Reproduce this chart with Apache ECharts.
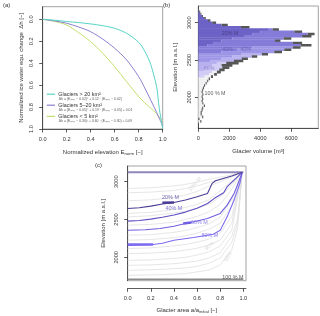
<!DOCTYPE html>
<html><head><meta charset="utf-8">
<script src="https://cdn.jsdelivr.net/npm/echarts@6/dist/echarts.min.js"></script>
<style>html,body{margin:0;padding:0;background:#fff}#c{width:320px;height:316px}</style>
</head><body><div id="c"></div>
<script>
// ---------- Panel (a): normalized ice-thickness change curves ----------
const aX      = [0, 0.1, 0.2, 0.3, 0.4, 0.5, 0.6, 0.7, 0.8, 0.85, 0.9, 0.95, 0.97, 1.0];
const aLarge  = [0, 0.008, 0.02, 0.03, 0.042, 0.058, 0.082, 0.128, 0.21, 0.29, 0.41, 0.62, 0.8, 1.0];
const aMedium = [0, 0.015, 0.036, 0.07, 0.113, 0.18, 0.264, 0.371, 0.523, 0.625, 0.736, 0.85, 0.9, 0.97];
const aSmall  = [0, 0.02, 0.052, 0.122, 0.204, 0.31, 0.432, 0.57, 0.705, 0.76, 0.81, 0.86, 0.89, 0.93];
const aNames  = ['Glaciers > 20 km²', 'Glaciers 5–20 km²', 'Glaciers < 5 km²'];
const aFormulas = [
  'Δh = (Eₙₒᵣₘ − 0.02)⁶ + 0.12 · (Eₙₒᵣₘ − 0.02)',
  'Δh = (Eₙₒᵣₘ − 0.05)⁴ + 0.19 · (Eₙₒᵣₘ − 0.05) + 0.01',
  'Δh = (Eₙₒᵣₘ − 0.30)² + 0.60 · (Eₙₒᵣₘ − 0.30) + 0.09'
];
const aTicks = [0, 0.2, 0.4, 0.6, 0.8, 1.0];

// ---------- Panel (b): glacier volume per elevation band ----------
const BIN = 30;
const binElev  = [3150,3120,3090,3060,3030,3000,2970,2940,2910,2880,
                  2850,2820,2790,2760,2730,2700,2670,2640,2610,2580,
                  2550,2520,2490,2460,2430,2400,2370,2340,2310,2280,
                  2250,2220,2190,2160,2130,2100,2070,2040,2010,1980,
                  1950,1920,1890,1860,1830,1800,1770,1740,1710,1680];
const binTotal = [120,200,300,480,780,1150,1900,3300,5200,6700,
                  7500,7300,6000,5300,6700,7300,6600,6000,5400,4500,
                  3800,3200,2900,2600,2200,2000,1700,1450,1200,950,
                  760,640,540,440,370,320,280,330,280,320,
                  280,330,430,320,280,220,220,320,80,200];
const binTip   = [60,60,60,100,150,250,400,550,400,500,
                  450,600,500,350,600,700,500,450,500,400,
                  350,400,600,800,700,450,350,250,180,130,
                  90,70,70,70,70,70,70,70,70,70,
                  70,70,70,70,70,70,70,70,60,70];
const binZone  = [0,0,0,0,0,0,0,0,0,0,
                  0,0,0,0,0,0,1,1,1,2,
                  2,2,2,3,3,3,3,4,4,4,
                  5,5,5,5,5,5,5,5,5,5,
                  5,5,5,5,5,5,5,5,5,5];
const binInner = [9999,9999,9999,9999,9999,9999,9999,9999,4500,4000,
                  3500,3000,2200,1500,1000,600,3500,2500,1500,2800,
                  2200,1500,800,1200,900,700,400,900,700,400,
                  9999,9999,9999,9999,9999,9999,9999,9999,9999,9999,
                  9999,9999,9999,9999,9999,9999,9999,9999,9999,9999];
const bLabelText = ['20% M', '40%', '40%', '60%', '100 % M'];
const bLabelPos  = [[2050, 2858], [1900, 2643], [3050, 2643], [700, 2389], [1080, 2045]];
const bXTicks = [0, 2000, 4000, 6000];
const bYTicks = [2000, 2500, 3000];

// ---------- Panel (c): elevation vs. glacier area for melt stages ----------
const c20 = [[0,2646],[0.1,2655],[0.2,2677],[0.3,2705],[0.4,2726],[0.5,2757],[0.6,2801],[0.69,2845],[0.71,2911],[0.73,2978],[0.76,3013],[0.82,3040],[0.9,3075],[0.99,3124]];
const c40 = [[0,2478],[0.1,2487],[0.2,2505],[0.3,2530],[0.4,2560],[0.5,2598],[0.6,2650],[0.69,2712],[0.75,2780],[0.83,2854],[0.86,2934],[0.92,3022],[0.99,3124]];
const c60 = [[0,2358],[0.15,2365],[0.28,2381],[0.4,2410],[0.5,2447],[0.6,2480],[0.69,2513],[0.8,2580],[0.86,2690],[0.92,2845],[0.96,3000],[0.99,3124]];
const c80 = [[0,2168],[0.22,2170],[0.3,2185],[0.4,2226],[0.57,2261],[0.74,2305],[0.8,2358],[0.86,2535],[0.92,2757],[0.97,2978],[0.99,3124]];
const c20thick = [[0.3,2722],[0.4,2724]];
const c60thick = [[0.48,2447],[0.55,2460]];
const c80thick = [[0,2168],[0.22,2170]];
const cTop    = [[0,3124],[1,3124]];
const cBottom = [[0,1709],[1,1709]];
const g05 = [[0,2911],[0.2,2920],[0.4,2945],[0.5,2965],[0.6,2995],[0.7,3030],[0.8,3060],[0.9,3090],[0.99,3124]];
const g10 = [[0,2854],[0.2,2862],[0.4,2885],[0.5,2910],[0.6,2945],[0.7,2990],[0.8,3035],[0.9,3080],[0.99,3124]];
const g15 = [[0,2748],[0.2,2760],[0.4,2790],[0.5,2825],[0.6,2870],[0.7,2940],[0.8,3000],[0.9,3060],[0.99,3124]];
const g30 = [[0,2580],[0.2,2595],[0.4,2630],[0.5,2660],[0.6,2700],[0.7,2760],[0.8,2880],[0.9,3010],[0.99,3124]];
const g35 = [[0,2535],[0.2,2550],[0.4,2585],[0.5,2610],[0.6,2650],[0.7,2700],[0.8,2800],[0.9,2960],[0.99,3124]];
const g50 = [[0,2425],[0.2,2435],[0.4,2465],[0.5,2500],[0.6,2540],[0.7,2600],[0.8,2700],[0.9,2900],[0.99,3124]];
const g70 = [[0,2292],[0.2,2300],[0.4,2330],[0.5,2355],[0.6,2395],[0.7,2440],[0.8,2530],[0.9,2760],[0.99,3124]];
const g75 = [[0,2226],[0.2,2235],[0.4,2260],[0.5,2285],[0.6,2320],[0.7,2370],[0.8,2450],[0.9,2680],[0.99,3124]];
const g85 = [[0,2115],[0.2,2125],[0.4,2150],[0.5,2170],[0.6,2200],[0.7,2240],[0.8,2320],[0.9,2540],[0.99,3124]];
const g90 = [[0,2049],[0.2,2055],[0.4,2075],[0.5,2095],[0.6,2120],[0.7,2160],[0.8,2230],[0.9,2450],[0.99,3124]];
const g93 = [[0,1960],[0.2,1965],[0.4,1985],[0.5,2000],[0.6,2030],[0.7,2070],[0.8,2150],[0.9,2360],[0.99,3124]];
const g95 = [[0,1894],[0.2,1900],[0.4,1915],[0.6,1950],[0.7,1990],[0.8,2060],[0.9,2280],[0.95,2500],[0.99,3124]];
const g97 = [[0,1827],[0.3,1840],[0.5,1860],[0.6,1880],[0.7,1920],[0.8,1990],[0.9,2200],[0.95,2450],[0.99,3124]];
const g99 = [[0,1761],[0.3,1770],[0.5,1785],[0.7,1830],[0.8,1900],[0.9,2100],[0.95,2380],[0.99,3124]];
const greyCurves = [g05,g10,g15,g30,g35,g50,g70,g75,g85,g90,g93,g95,g97,g99];
const cLabelText = ['20% M', '40% M', '60% M', '80% M', '100 % M'];
const cLabelPos  = [[0.37,2790],[0.40,2646],[0.62,2456],[0.71,2290],[0.91,1738]];
const cGreyLabelText = ['10% M', '90%', '95%'];
const cGreyLabelPos  = [[0.58,2965],[0.71,2150],[0.87,2010]];
const cXTicks = [0, 0.2, 0.4, 0.6, 0.8, 1.0];
const cYTicks = [2000, 2500, 3000];

// ---------- styles ----------
const FONT = 'Liberation Sans';
const TXT = '#333';
const AXC = '#333';
const BOX = '#8a8a8a';
const A_COLORS = ['#57d3c6', '#8b81d0', '#c2df6c'];
const ZC = ['#6d62c6', '#857bd8', '#9d95e6', '#b7b1ef', '#d0ccf5', '#f0f0f2', '#f0f0f2'];
const TIPC = '#565656';
const C_COLORS = ['#4b3d96', '#5d4ec3', '#6f5fe0', '#7c6cf0', '#333333'];
const B_LABEL_COLORS = ['#3d3570', '#5f57aa', '#5f57aa', '#7f78c6', '#333333'];

function axisX(grid, min, max, ticks, fmt, name, gap, extra) {
  return Object.assign({
    gridIndex: grid, type: 'value', min: min, max: max,
    axisLine: { show: true, onZero: false, lineStyle: { color: AXC, width: 0.8 } },
    axisTick: { show: true, length: 3.5, customValues: ticks, lineStyle: { color: AXC, width: 0.8 } },
    axisLabel: { customValues: ticks, formatter: fmt, margin: 7.5, fontSize: 5.6, color: TXT, fontFamily: FONT },
    splitLine: { show: false },
    name: name, nameLocation: 'middle', nameGap: gap,
    nameTextStyle: { fontSize: 6, color: TXT, fontFamily: FONT,
      rich: { s: { fontSize: 4.2, color: TXT, fontFamily: FONT, padding: [3, 0, 0, 0] } } }
  }, extra || {});
}
function axisY(grid, min, max, ticks, fmt, name, gap, margin, extra) {
  return Object.assign({
    gridIndex: grid, type: 'value', min: min, max: max,
    axisLine: { show: true, onZero: false, lineStyle: { color: AXC, width: 0.8 } },
    axisTick: { show: true, length: 3.5, customValues: ticks, lineStyle: { color: AXC, width: 0.8 } },
    axisLabel: { customValues: ticks, formatter: fmt, rotate: 90, margin: margin, fontSize: 5.6, color: TXT, fontFamily: FONT },
    splitLine: { show: false },
    name: name, nameLocation: 'middle', nameGap: gap, nameRotate: 90,
    nameTextStyle: { fontSize: 6, color: TXT, fontFamily: FONT }
  }, extra || {});
}

function renderBins(params, api) {
  const e = api.value(0), tot = api.value(1), tip = api.value(2), z = api.value(3), inner = api.value(4);
  const yTop = api.coord([0, e + BIN / 2])[1];
  const yBot = api.coord([0, e - BIN / 2])[1];
  const px = v => api.coord([v, e])[0];
  const x0 = px(0);
  const h = yBot - yTop + 0.35;
  const edge = tot - tip;
  const split = Math.min(inner, edge);
  const ch = [];
  ch.push({ type: 'rect', shape: { x: x0, y: yTop, width: px(split) - x0, height: h }, style: { fill: ZC[z] } });
  if (split < edge) ch.push({ type: 'rect', shape: { x: px(split), y: yTop, width: px(edge) - px(split), height: h }, style: { fill: ZC[z + 1] } });
  ch.push({ type: 'rect', shape: { x: px(edge), y: yTop, width: px(tot) - px(edge), height: h }, style: { fill: TIPC } });
  return { type: 'group', children: ch };
}

const f1 = v => v.toFixed(1);
const f0 = v => String(Math.round(v));

const series = [];
// panel a
[aLarge, aMedium, aSmall].forEach((arr, i) => {
  series.push({ type: 'line', xAxisIndex: 0, yAxisIndex: 0, data: aX.map((x, j) => [x, arr[j]]),
    smooth: 0.3, showSymbol: false, lineStyle: { color: A_COLORS[i], width: 1 }, z: 3 - i + 2 });
});
// panel b
series.push({ type: 'custom', xAxisIndex: 1, yAxisIndex: 1, renderItem: renderBins,
  data: binElev.map((e, i) => [e, binTotal[i], binTip[i], binZone[i], binInner[i]]), clip: true });
series.push({ type: 'scatter', xAxisIndex: 1, yAxisIndex: 1, symbolSize: 0, silent: true, z: 10,
  data: bLabelPos.map((p, i) => ({ value: p, label: { color: B_LABEL_COLORS[i] } })),
  label: { show: true, position: 'inside', formatter: p => bLabelText[p.dataIndex], fontSize: 5.3, fontFamily: FONT } });
// panel c
greyCurves.forEach(g => series.push({ type: 'line', xAxisIndex: 2, yAxisIndex: 2, data: g, showSymbol: false,
  lineStyle: { color: '#e0e0e0', width: 0.8 }, z: 2 }));
series.push({ type: 'line', xAxisIndex: 2, yAxisIndex: 2, data: cBottom, showSymbol: false, lineStyle: { color: '#8c8c8c', width: 1.4 }, z: 3 });
series.push({ type: 'line', xAxisIndex: 2, yAxisIndex: 2, data: cTop, showSymbol: false, lineStyle: { color: '#8f88b8', width: 2 }, z: 3 });
[c80, c60, c40, c20].forEach((arr, k) => {
  const i = 3 - k;
  series.push({ type: 'line', xAxisIndex: 2, yAxisIndex: 2, data: arr, showSymbol: false,
    lineStyle: { color: C_COLORS[i], width: 1.1 }, z: 4 });
});
[[c20thick, 0], [c60thick, 2], [c80thick, 3]].forEach(([arr, i]) => {
  series.push({ type: 'line', xAxisIndex: 2, yAxisIndex: 2, data: arr, showSymbol: false,
    lineStyle: { color: C_COLORS[i], width: 2.6 }, z: 5 });
});
series.push({ type: 'scatter', xAxisIndex: 2, yAxisIndex: 2, symbolSize: 0, silent: true, z: 10,
  data: cLabelPos.map((p, i) => ({ value: p, label: { color: C_COLORS[i] } })),
  label: { show: true, position: 'inside', formatter: p => cLabelText[p.dataIndex], fontSize: 5.4, fontFamily: FONT } });
const greyRot = [50, 40, 62];
series.push({ type: 'scatter', xAxisIndex: 2, yAxisIndex: 2, symbolSize: 0, silent: true, z: 3,
  data: cGreyLabelPos.map((p, i) => ({ value: p, label: { rotate: greyRot[i] } })),
  label: { show: true, position: 'inside', formatter: p => cGreyLabelText[p.dataIndex], fontSize: 5.4, fontFamily: FONT, color: '#d2d2d2' } });

// legend graphics for panel a
const graphic = [
  { type: 'text', x: 3, y: 5, style: { text: '(a)', fontSize: 6, fontFamily: FONT, fill: TXT, textVerticalAlign: 'middle' } },
  { type: 'text', x: 163, y: 5, style: { text: '(b)', fontSize: 6, fontFamily: FONT, fill: TXT, textVerticalAlign: 'middle' } },
  { type: 'text', x: 95, y: 165, style: { text: '(c)', fontSize: 6, fontFamily: FONT, fill: TXT, textVerticalAlign: 'middle' } }
];
const legY = [94.2, 105.2, 116.4];
aNames.forEach((n, i) => {
  graphic.push({ type: 'line', shape: { x1: 46.7, y1: legY[i], x2: 55, y2: legY[i] }, style: { stroke: A_COLORS[i], lineWidth: 1.2 } });
  graphic.push({ type: 'text', x: 58.3, y: legY[i], style: { text: n, fontSize: 5.4, fontFamily: FONT, fill: TXT, textVerticalAlign: 'middle' } });
  graphic.push({ type: 'text', x: 58.8, y: legY[i] + 4.4, style: { text: aFormulas[i], fontSize: 3.4, fontFamily: FONT, fill: '#555', textVerticalAlign: 'middle' } });
});

const option = {
  animation: false,
  backgroundColor: '#ffffff',
  textStyle: { fontFamily: FONT },
  grid: [
    { left: 42.7, top: 6.7, width: 120, height: 122.3, show: true, borderColor: BOX, borderWidth: 0.8, containLabel: false },
    { left: 198.3, top: 6, width: 120, height: 122.3, show: true, borderColor: BOX, borderWidth: 0.8, containLabel: false },
    { left: 127.7, top: 166, width: 118.3, height: 114.7, show: true, borderColor: BOX, borderWidth: 0.8, containLabel: false }
  ],
  xAxis: [
    axisX(0, 0, 1, aTicks, f1, 'Normalized elevation E{s|norm} [−]', 20),
    axisX(1, 0, 7742, bXTicks, f0, 'Glacier volume [m³]', 20),
    axisX(2, 0, 1.023, cXTicks, f1, 'Glacier area a/a{s|initial} [−]', 18.5, { offset: 7.6 })
  ],
  yAxis: [
    axisY(0, -0.115, 1, aTicks, f1, 'Normalized ice water equ. change  Δh [−]', 18.5, 8, { inverse: true }),
    axisY(1, 1584.5, 3224, bYTicks, f0, 'Elevation [m a.s.l.]', 20.3, 6.2),
    axisY(2, 1690.5, 3207.7, cYTicks, f0, 'Elevation [m a.s.l.]', 21, 8.2)
  ],
  graphic: graphic,
  series: series
};
const chart = echarts.init(document.getElementById('c'), null, { renderer: 'canvas', width: 320, height: 316 });
chart.setOption(option);
</script></body></html>
